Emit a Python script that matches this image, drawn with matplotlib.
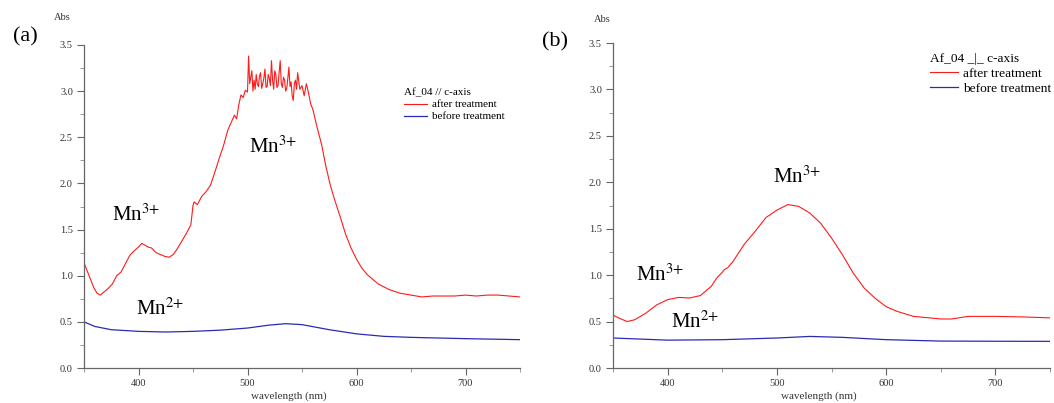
import matplotlib
matplotlib.use("Agg")
import matplotlib.pyplot as plt
from matplotlib.ticker import MultipleLocator

plt.rcParams['font.family'] = ['Liberation Serif', 'DejaVu Serif']
plt.rcParams['mathtext.fontset'] = 'stix'

# panel (a): Af_04 // c-axis
wl_a_after = [350, 353, 356, 359, 362, 365, 368, 372, 376, 380, 384, 388, 392, 396, 400, 403, 406, 409,
              412, 416, 420, 424, 428, 432, 436, 440, 444, 448, 450, 451, 454, 458, 462, 466, 470, 474,
              478, 482, 485, 488, 490, 492, 494, 496, 498, 500, 501, 502, 503, 504, 505, 506, 507, 508,
              509, 510, 511, 512, 513, 514, 515, 516, 517, 518, 519, 520, 521, 522, 523, 524, 525, 526,
              527, 528, 529, 530, 531, 532, 533, 534, 535, 536, 537, 538, 539, 540, 541, 542, 543, 544,
              545, 546, 548, 550, 552, 554, 556, 558, 560, 564, 568, 572, 576, 580, 585, 590, 595, 600,
              605, 610, 620, 630, 640, 650, 660, 670, 680, 690, 700, 710, 720, 730, 740, 750]
abs_a_after = [1.14, 1.05, 0.96, 0.87, 0.81, 0.79, 0.82, 0.86, 0.91, 1.00, 1.04, 1.13, 1.22, 1.27, 1.31, 1.35, 1.33, 1.31,
               1.30, 1.25, 1.23, 1.21, 1.20, 1.23, 1.30, 1.38, 1.46, 1.55, 1.76, 1.80, 1.77, 1.86, 1.91, 1.98, 2.12, 2.27,
               2.41, 2.58, 2.66, 2.74, 2.70, 2.85, 2.96, 2.93, 3.01, 2.99, 3.38, 3.08, 3.15, 3.22, 3.00, 3.12, 3.02, 3.18,
               3.08, 3.05, 3.16, 3.20, 3.03, 3.08, 3.14, 3.24, 3.04, 3.05, 3.18, 3.14, 3.06, 3.33, 3.12, 3.02, 3.22, 3.18,
               3.04, 3.06, 3.20, 3.33, 3.08, 3.04, 3.15, 3.12, 3.00, 3.03, 3.14, 3.26, 3.05, 3.10, 2.95, 2.90, 3.08, 3.12,
               3.02, 3.20, 3.02, 3.06, 2.95, 3.08, 2.98, 2.86, 2.80, 2.60, 2.42, 2.18, 1.98, 1.82, 1.64, 1.45, 1.30, 1.18,
               1.08, 1.01, 0.91, 0.85, 0.81, 0.79, 0.77, 0.78, 0.78, 0.78, 0.79, 0.78, 0.79, 0.79, 0.78, 0.77]
wl_a_before = [350, 360, 375, 400, 425, 450, 475, 500, 520, 535, 550, 575, 600, 625, 650, 700, 750]
abs_a_before = [0.50, 0.45, 0.415, 0.397, 0.39, 0.397, 0.41, 0.433, 0.465, 0.48, 0.47, 0.415, 0.37, 0.343, 0.332, 0.318, 0.307]

# panel (b): Af_04 _|_ c-axis
wl_b_after = [350, 355, 363, 370, 380, 390, 400, 410, 420, 430, 440, 445, 450, 452, 455, 460, 470, 480, 490, 500,
              510, 520, 530, 540, 550, 560, 570, 580, 590, 600, 610, 625, 650, 660, 675, 700, 725, 750]
abs_b_after = [0.57, 0.54, 0.50, 0.52, 0.59, 0.68, 0.736, 0.76, 0.754, 0.78, 0.88, 0.97, 1.03, 1.06, 1.08, 1.15, 1.33, 1.47, 1.62, 1.70,
               1.76, 1.74, 1.67, 1.56, 1.40, 1.22, 1.02, 0.86, 0.75, 0.66, 0.61, 0.556, 0.528, 0.528, 0.556, 0.556, 0.55, 0.54]
wl_b_before = [350, 400, 450, 500, 530, 560, 600, 650, 700, 750]
abs_b_before = [0.323, 0.30, 0.305, 0.323, 0.34, 0.33, 0.305, 0.29, 0.288, 0.287]

W, H = 1054, 403
fig = plt.figure(figsize=(W / 100, H / 100), dpi=100)


def px_box(l, t, r, b):
    return [l / W, 1 - b / H, (r - l) / W, (b - t) / H]


def setup(ax):
    ax.set_xlim(350, 750)
    ax.set_ylim(0, 3.5)
    ax.xaxis.set_major_locator(MultipleLocator(100))
    ax.xaxis.set_minor_locator(MultipleLocator(50))
    ax.yaxis.set_major_locator(MultipleLocator(0.5))
    ax.yaxis.set_minor_locator(MultipleLocator(0.25))
    ax.yaxis.set_major_formatter(lambda v, p: f"{v:.1f}")
    for s in ['top', 'right']:
        ax.spines[s].set_visible(False)
    for s in ['left', 'bottom']:
        ax.spines[s].set_color('#666666')
        ax.spines[s].set_linewidth(0.9)
    ax.tick_params(which='major', length=5, width=0.8, color='#666666', labelsize=7.5,
                   labelcolor='#333333', pad=3)
    ax.tick_params(which='minor', length=3, width=0.6, color='#888888')
    ax.set_xlabel('wavelength (nm)', fontsize=8, color='#333333')
    ax.xaxis.set_label_coords(0.47, -0.072)


mn3 = 'Mn$^{3{+}}$'
mn2 = 'Mn$^{2{+}}$'

ax1 = fig.add_axes(px_box(84, 45, 520, 368))
setup(ax1)
ax1.plot(wl_a_after, abs_a_after, color='#ff1a1a', lw=0.8, label='after treatment')
ax1.plot(wl_a_before, abs_a_before, color='#2a2ab8', lw=0.9, label='before treatment')
ax1.legend(loc='upper left', bbox_to_anchor=(404 / W, 1 - 88 / H), bbox_transform=fig.transFigure,
           title='Af_04 // c-axis', title_fontsize=8, fontsize=8, frameon=False, alignment='left',
           borderpad=0, borderaxespad=0, handlelength=2.1, handletextpad=0.4, labelspacing=0.2)
fig.text(136 / W, 1 - 215 / H, mn3, fontsize=15, ha='center', va='center')
fig.text(273 / W, 1 - 147 / H, mn3, fontsize=15, ha='center', va='center')
fig.text(160 / W, 1 - 309 / H, mn2, fontsize=15, ha='center', va='center')
fig.text(62 / W, 1 - 17 / H, 'Abs', fontsize=7.5, ha='center', va='center', color='#333333')
fig.text(25 / W, 1 - 37 / H, '(a)', fontsize=16, ha='center', va='center')

ax2 = fig.add_axes(px_box(613, 43, 1050, 368))
setup(ax2)
ax2.plot(wl_b_after, abs_b_after, color='#ff1a1a', lw=0.8, label='after treatment')
ax2.plot(wl_b_before, abs_b_before, color='#2a2ab8', lw=0.9, label='before treatment')
ax2.legend(loc='upper left', bbox_to_anchor=(930 / W, 1 - 53 / H), bbox_transform=fig.transFigure,
           title='Af_04 _|_ c-axis', title_fontsize=9.6, fontsize=9.6, frameon=False, alignment='left',
           borderpad=0, borderaxespad=0, handlelength=2.1, handletextpad=0.4, labelspacing=0.2)
fig.text(660 / W, 1 - 275 / H, mn3, fontsize=15, ha='center', va='center')
fig.text(797 / W, 1 - 177 / H, mn3, fontsize=15, ha='center', va='center')
fig.text(695 / W, 1 - 322 / H, mn2, fontsize=15, ha='center', va='center')
fig.text(602 / W, 1 - 20 / H, 'Abs', fontsize=7.5, ha='center', va='center', color='#333333')
fig.text(555 / W, 1 - 42 / H, '(b)', fontsize=16, ha='center', va='center')

fig.savefig('out.png', dpi=100)
